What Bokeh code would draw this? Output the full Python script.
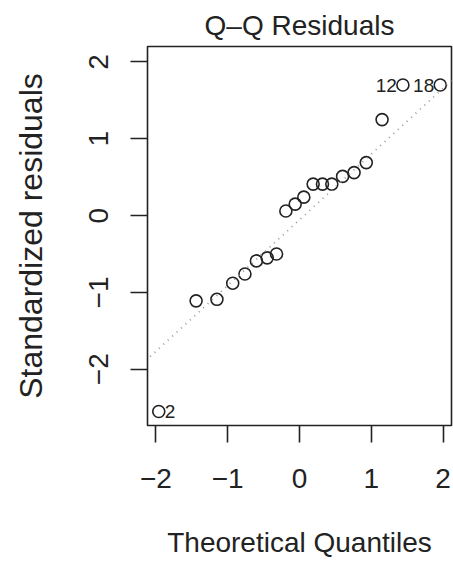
import numpy as np
from bokeh.plotting import figure
from bokeh.models import Range1d, FixedTicker, Slope, ColumnDataSource
from bokeh.core.properties import value
from bokeh.embed import file_html
from bokeh.resources import INLINE

# ---- data ----
theoretical = [-1.96, -1.44, -1.15, -0.93, -0.76, -0.60, -0.45, -0.32, -0.19, -0.06,
               0.06, 0.19, 0.32, 0.45, 0.60, 0.76, 0.93, 1.15, 1.44, 1.96]
std_resid = [-2.55, -1.11, -1.09, -0.88, -0.76, -0.59, -0.55, -0.50, 0.06, 0.15,
             0.24, 0.41, 0.41, 0.41, 0.51, 0.56, 0.69, 1.25, 1.70, 1.70]
left_lab_x = [-1.96]
left_lab_y = [-2.55]
left_lab_text = ["2"]
right_lab_x = [1.44, 1.96]
right_lab_y = [1.70, 1.70]
right_lab_text = ["12", "18"]
x_ticks = [-2, -1, 0, 1, 2]
y_ticks = [-2, -1, 0, 1, 2]
tick_text = {-2: "\u22122", -1: "\u22121", 0: "0", 1: "1", 2: "2"}

FONT = "Liberation Sans"
TXT = "#222222"

# ranges as R computes them
xr = np.array([min(theoretical), max(theoretical)])
xs = xr[1] - xr[0]
ylo, yhi = min(std_resid), max(std_resid)
yhi = yhi + (yhi - ylo) * 0.075
ys = yhi - ylo

p = figure(frame_width=304, frame_height=379,
           min_border_left=147, min_border_right=2,
           min_border_top=46, min_border_bottom=141,
           x_range=Range1d(xr[0] - 0.04 * xs, xr[1] + 0.04 * xs),
           y_range=Range1d(ylo - 0.04 * ys, yhi + 0.04 * ys),
           output_backend="svg", toolbar_location=None,
           title="Q\u2013Q Residuals")
p.background_fill_color = "white"
p.border_fill_color = "white"
p.grid.visible = False
p.outline_line_color = "#222222"
p.outline_line_width = 1.6

p.title.align = "center"
p.title.text_font = FONT
p.title.text_font_size = "28px"
p.title.text_font_style = "normal"
p.title.text_color = TXT
p.title.standoff = 12

for ax, ticks in ((p.xaxis[0], x_ticks), (p.yaxis[0], y_ticks)):
    ax.ticker = FixedTicker(ticks=ticks)
    ax.major_label_overrides = tick_text
    ax.axis_line_color = None
    ax.major_tick_line_color = "#222222"
    ax.major_tick_line_width = 1.6
    ax.major_tick_in = 0
    ax.major_tick_out = 17
    ax.minor_tick_line_color = None
    ax.major_label_text_font = FONT
    ax.major_label_text_font_size = "28px"
    ax.major_label_text_color = TXT
    ax.axis_label_text_font = FONT
    ax.axis_label_text_font_style = "normal"
    ax.axis_label_text_color = TXT

p.xaxis.axis_label = "Theoretical Quantiles"
p.xaxis.axis_label_text_font_size = "28px"
p.xaxis.major_label_standoff = 26
p.xaxis.axis_label_standoff = 36
p.yaxis.axis_label = "Standardized residuals"
p.yaxis.axis_label_text_font_size = "32px"
p.yaxis.major_label_orientation = "vertical"
p.yaxis.major_label_standoff = 22
p.yaxis.axis_label_standoff = 38

# qqline through the quartiles
q1, q3 = np.quantile(std_resid, [0.25, 0.75])
z = 0.6744897501960817
slope = (q3 - q1) / (2 * z)
intercept = q1 + slope * z
p.add_layout(Slope(gradient=slope, y_intercept=intercept, line_color="#9a9a9a",
                   line_width=1.8, line_dash="1 5"))

src = ColumnDataSource(dict(x=theoretical, y=std_resid))
p.scatter("x", "y", source=src, marker="circle", size=12, fill_color=None,
          line_color="#222222", line_width=1.6)

p.text(x=left_lab_x, y=left_lab_y, text=left_lab_text, x_offset=6,
       text_align="left", text_baseline="middle", text_font=value(FONT),
       text_font_size="19px", text_color=TXT)
p.text(x=right_lab_x, y=right_lab_y, text=right_lab_text, x_offset=-6,
       text_align="right", text_baseline="middle", text_font=value(FONT),
       text_font_size="19px", text_color=TXT)

open("out.html", "w").write(file_html(p, INLINE))
